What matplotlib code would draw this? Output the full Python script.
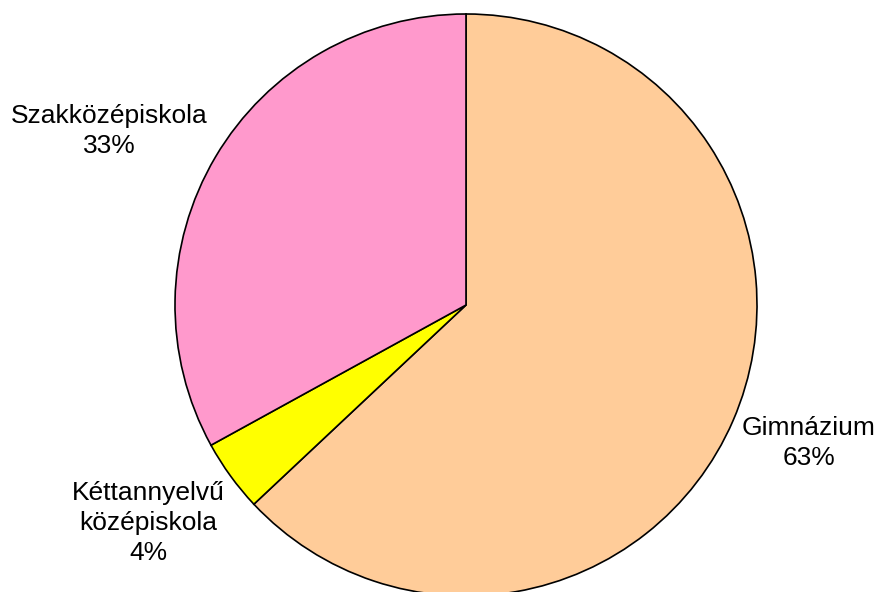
import matplotlib
matplotlib.use('Agg')
import matplotlib.pyplot as plt

# Data
categories = ['Gimnázium', 'Kéttannyelvű\nközépiskola', 'Szakközépiskola']
shares = [63, 4, 33]
colors = ['#FFCC99', '#FFFF00', '#FF99CC']

# label anchor positions (pixels, origin bottom-left)
label_pos = [(809, 592 - 443), (148, 592 - 523), (109, 592 - 131)]

plt.rcParams['font.family'] = ['Liberation Sans', 'DejaVu Sans']

fig = plt.figure(figsize=(8.77, 5.92), dpi=100)
ax = fig.add_axes([0, 0, 1, 1])

wedges, _ = ax.pie(
    shares,
    colors=colors,
    startangle=90,
    counterclock=False,
    center=(466, 287),
    radius=291,
    wedgeprops=dict(edgecolor='black', linewidth=1.2),
)

for name, val, (x, y) in zip(categories, shares, label_pos):
    ax.text(x, y, f'{name}\n{val}%', ha='center', va='center',
            multialignment='center', fontsize=19, linespacing=1.3)

ax.set_xlim(0, 877)
ax.set_ylim(0, 592)
ax.set_aspect('equal')
ax.axis('off')

fig.savefig('out.png', dpi=100, facecolor='white')
